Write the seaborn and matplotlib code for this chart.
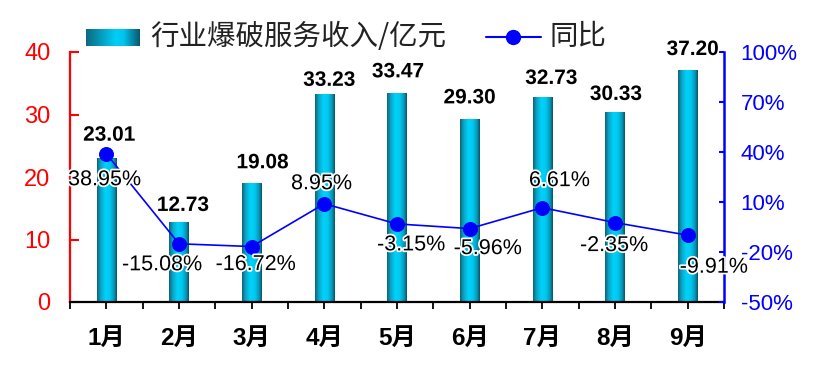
import numpy as np
import pandas as pd
import seaborn as sns
import matplotlib.pyplot as plt
import matplotlib.patheffects as pe
from matplotlib.colors import LinearSegmentedColormap
from matplotlib.lines import Line2D

# chart data
months = ["1月", "2月", "3月", "4月", "5月", "6月", "7月", "8月", "9月"]
revenue = [23.01, 12.73, 19.08, 33.23, 33.47, 29.30, 32.73, 30.33, 37.20]  # 亿元
yoy = [38.95, -15.08, -16.72, 8.95, -3.15, -5.96, 6.61, -2.35, -9.91]  # %

bar_label = "行业爆破服务收入/亿元"
line_label = "同比"

# label nudges in pixels (dx, dy)
rev_offsets = [(3, 23), (4, 17), (11, 20), (5, 14), (1, 21), (0, 21), (9, 19), (1, 18), (5, 20)]
yoy_offsets = [(-2, -26), (-17, -21), (4, -18), (-3, 20), (14, -21), (18, -20), (17, 27), (-1, -23), (26, -32)]

sns.set_style("ticks")
plt.rcParams['font.family'] = ['Liberation Sans', 'Noto Sans CJK SC', 'DejaVu Sans']

fig = plt.figure(figsize=(8.14, 3.86), dpi=100)
ax = fig.add_axes([70 / 814, 84 / 386, 654 / 814, 250 / 386])

df = pd.DataFrame({"month": months, "revenue": revenue, "yoy": yoy})
sns.barplot(data=df, x="month", y="revenue", width=0.27, color="#00c4ee", saturation=1, ax=ax)

# gradient fill for the bars (dark teal - cyan - dark)
bar_cmap = LinearSegmentedColormap.from_list(
    "bar", [(0, "#0e6478"), (0.18, "#0aa4c6"), (0.42, "#00d2fa"), (0.65, "#00c8f0"),
            (0.86, "#0898b8"), (1, "#0a5466")])
grad = np.linspace(0, 1, 64).reshape(1, -1)
for p in ax.patches:
    x0, y0 = p.get_x(), p.get_y()
    w, h = p.get_width(), p.get_height()
    im = ax.imshow(grad, extent=[x0, x0 + w, y0, y0 + h], aspect="auto", cmap=bar_cmap,
                   zorder=p.get_zorder() + 0.1, interpolation="bilinear")
    im.set_clip_path(p)
    p.set_facecolor("none")
    p.set_edgecolor("none")

ax.set_xlim(-0.5, len(months) - 0.5)
ax.set_ylim(0, 40)
ax.set_yticks(range(0, 41, 10))
ax.set_xlabel("")
ax.set_ylabel("")

ax2 = ax.twinx()
sns.lineplot(x=np.arange(len(months)), y=yoy, ax=ax2, color="#0000ff", lw=1.2,
             marker="o", markersize=10, markeredgecolor="#0000ff", sort=False)
ax2.set_ylim(-50, 100)
yt = list(range(-50, 101, 30))
ax2.set_yticks(yt)
ax2.set_yticklabels([f"{t}%" for t in yt])
ax2.set_xlim(-0.5, len(months) - 0.5)

# spines
ax.spines["top"].set_visible(False)
ax2.spines["top"].set_visible(False)
ax.spines["left"].set_color("red")
ax.spines["left"].set_linewidth(1.6)
ax.spines["bottom"].set_color("black")
ax.spines["bottom"].set_linewidth(1.6)
ax.spines["right"].set_visible(False)
ax2.spines["left"].set_visible(False)
ax2.spines["bottom"].set_visible(False)
ax2.spines["right"].set_color("blue")
ax2.spines["right"].set_linewidth(1.8)

# ticks
ax.tick_params(axis="y", direction="in", length=6.5, width=1.5, colors="red",
               labelsize=17, pad=14, left=True, right=False)
ax2.tick_params(axis="y", direction="in", length=3.8, width=1.5, colors="blue",
                labelsize=16, pad=12, right=True, left=False)
ax.set_xticks(np.arange(len(months)))
ax.set_xticks(np.arange(-0.5, len(months), 1.0), minor=True)
ax.set_xticklabels(months, fontsize=17.5, fontweight="bold")
ax.tick_params(axis="x", which="both", direction="out", length=5, width=1.3,
               colors="black", pad=13, bottom=True)
ax.grid(False)
ax2.grid(False)

halo = [pe.withStroke(linewidth=2.5, foreground="white")]

# value labels
for i, v in enumerate(revenue):
    dx, dy = rev_offsets[i]
    ax2.annotate(f"{v:.2f}", xy=(i, v), xycoords=ax.transData, xytext=(dx, dy),
                 textcoords="offset pixels", ha="center", va="center",
                 fontsize=15, fontweight="bold", color="black", path_effects=halo)

for i, v in enumerate(yoy):
    dx, dy = yoy_offsets[i]
    ax2.annotate(f"{v:.2f}%", xy=(i, v), xytext=(dx, dy), textcoords="offset pixels",
                 ha="center", va="center", fontsize=15.5, color="black", path_effects=halo)

# legend drawn by hand so the swatch can carry the gradient
sw = fig.add_axes([86 / 814, 1 - 46 / 386, 54 / 814, 17.5 / 386])
sw_cmap = LinearSegmentedColormap.from_list(
    "sw", [(0, "#0a6b82"), (0.55, "#00cdf6"), (0.7, "#00c6ef"), (1, "#0a5870")])
sw.imshow(grad, aspect="auto", cmap=sw_cmap, interpolation="bilinear")
sw.axis("off")

fig.text(150 / 814, 1 - 37 / 386, bar_label, fontsize=20.5, color="#222222",
         family=["Noto Sans CJK SC", "DejaVu Sans"], ha="left", va="center")
fig.add_artist(Line2D([486 / 814, 541 / 814], [1 - 37 / 386, 1 - 37 / 386],
                      transform=fig.transFigure, color="#0000ff", lw=1.5))
fig.add_artist(Line2D([513 / 814], [1 - 37 / 386], transform=fig.transFigure,
                      color="#0000ff", marker="o", markersize=10, lw=0))
fig.text(550 / 814, 1 - 37 / 386, line_label, fontsize=20.5, color="#222222",
         family=["Noto Sans CJK SC", "DejaVu Sans"], ha="left", va="center")

fig.savefig("out.png", dpi=100)
